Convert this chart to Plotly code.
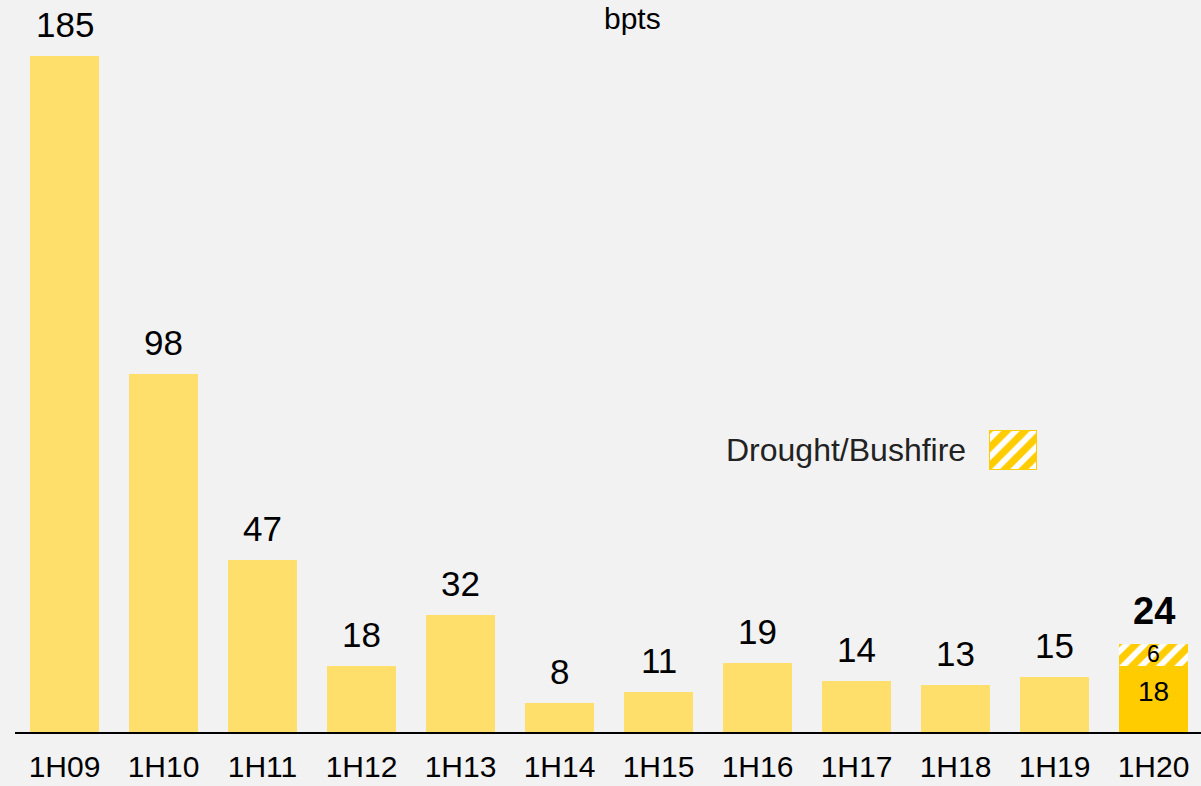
import plotly.graph_objects as go

# Half-year periods
categories = ["1H09", "1H10", "1H11", "1H12", "1H13", "1H14",
              "1H15", "1H16", "1H17", "1H18", "1H19", "1H20"]
# Underlying value in bpts
core_bpts = [185, 98, 47, 18, 32, 8, 11, 19, 14, 13, 15, 18]
# Drought/Bushfire overlay (only in the latest period)
drought_bpts = [None] * 11 + [6]
legend_label = "Drought/Bushfire"
unit_label = "bpts"

LIGHT = "#FFDF6B"
GOLD = "#FFCC00"
BG = "#F2F2F2"
FONT = "Arial, Liberation Sans, sans-serif"

W, H = 1201, 786
ML, MR, MT, MB = 15, 0, 0, 54
plot_w = W - ML - MR
plot_h = H - MT - MB

totals = [c + (d or 0) for c, d in zip(core_bpts, drought_bpts)]
last = len(categories) - 1
core_colors = [LIGHT] * last + [GOLD]

hatch = dict(shape="/", fgcolor=GOLD, bgcolor="white", fgopacity=1,
             size=13, solidity=0.55)

fig = go.Figure()

fig.add_trace(go.Bar(
    x=categories, y=core_bpts,
    marker=dict(color=core_colors, line=dict(width=0)),
    hoverinfo="x+y", showlegend=False,
))
fig.add_trace(go.Bar(
    x=categories, y=drought_bpts,
    marker=dict(color="white", line=dict(width=0), pattern=hatch),
    hoverinfo="x+y", showlegend=False,
))


def px_to_dom_x(px):
    return (px - ML) / plot_w


def px_to_dom_y(py):
    return (MT + plot_h - py) / plot_h


# Legend swatch: one hatched bar on its own small axes
fig.add_trace(go.Bar(
    x=[0.5], y=[1], width=[1], xaxis="x2", yaxis="y2",
    marker=dict(color="white", line=dict(width=2.5, color=GOLD), pattern=hatch),
    cliponaxis=False, hoverinfo="skip", showlegend=False,
))

annotations = []
# Value labels above each bar
for i, (cat, tot) in enumerate(zip(categories, totals)):
    bold = i == last
    annotations.append(dict(
        x=cat, y=tot, xref="x", yref="y",
        text=f"<b>{tot}</b>" if bold else str(tot),
        showarrow=False, yanchor="bottom", yshift=10,
        font=dict(size=38 if bold else 35, color="#000000", family=FONT),
    ))

# Segment labels inside the latest bar
annotations.append(dict(
    x=categories[last], y=core_bpts[last] / 2, xref="x", yref="y",
    text=str(core_bpts[last]), showarrow=False, yanchor="middle", yshift=8,
    font=dict(size=28, color="#000000", family=FONT),
))
annotations.append(dict(
    x=categories[last], y=core_bpts[last] + drought_bpts[last] / 2,
    xref="x", yref="y",
    text=str(drought_bpts[last]), showarrow=False, yanchor="middle", yshift=1,
    font=dict(size=23, color="#000000", family=FONT),
))

# Unit title
annotations.append(dict(
    x=px_to_dom_x(632), y=1, xref="paper", yref="paper",
    text=unit_label, showarrow=False, yanchor="top", yshift=0,
    font=dict(size=30, color="#000000", family=FONT),
))

# Legend text
annotations.append(dict(
    x=px_to_dom_x(968), y=px_to_dom_y(450), xref="paper", yref="paper",
    text=legend_label, showarrow=False, xanchor="right", yanchor="middle",
    font=dict(size=32, color="#222222", family=FONT),
))

fig.update_layout(
    width=W, height=H,
    margin=dict(l=ML, r=MR, t=MT, b=MB, pad=0),
    paper_bgcolor=BG, plot_bgcolor=BG,
    barmode="stack", bargap=0.31,
    font=dict(family=FONT, color="#000000"),
    annotations=annotations,
    xaxis=dict(
        type="category", categoryorder="array", categoryarray=categories,
        range=[-0.5, -0.5 + plot_w / 99.0],
        showgrid=False, zeroline=False, automargin=False,
        showline=True, linecolor="#000000", linewidth=2,
        ticks="", tickfont=dict(size=30, color="#000000", family=FONT),
        ticklabelstandoff=7,
        fixedrange=True,
    ),
    yaxis=dict(
        range=[0, plot_h / 3.654], visible=False, showgrid=False,
        zeroline=False, fixedrange=True, automargin=False,
    ),
    xaxis2=dict(domain=[px_to_dom_x(989), px_to_dom_x(1037)], range=[0, 1],
                visible=False, anchor="y2", fixedrange=True),
    yaxis2=dict(domain=[px_to_dom_y(470), px_to_dom_y(430)], range=[0, 1],
                visible=False, anchor="x2", fixedrange=True),
)

fig.write_html("out.html", config={"displayModeBar": False})
